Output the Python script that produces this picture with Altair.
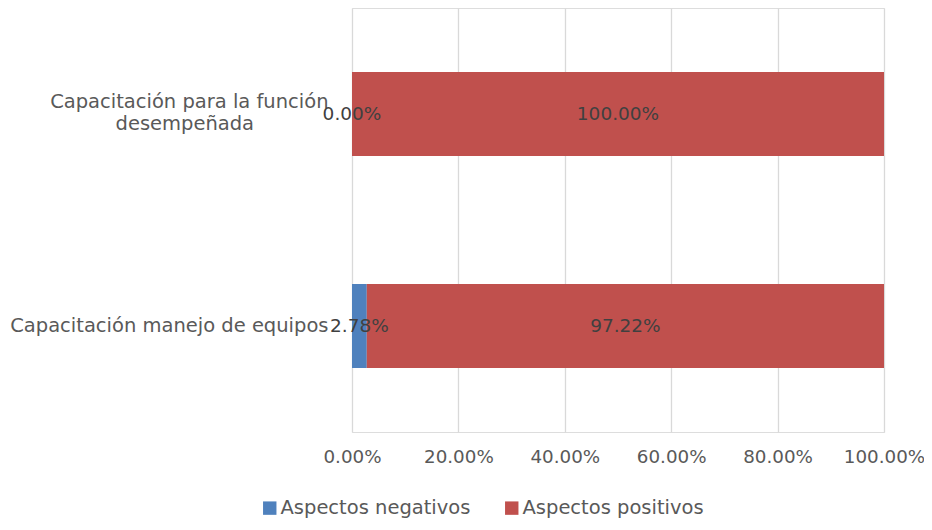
import altair as alt
import pandas as pd

categories = ["Capacitación para la función desempeñada", "Capacitación manejo de equipos"]
series = ["Aspectos negativos", "Aspectos positivos"]
negativos = [0.0, 2.78]
positivos = [100.0, 97.22]
ticks = [0, 20, 40, 60, 80, 100]

rows = []
for c, n, p in zip(categories, negativos, positivos):
    rows.append({"cat": c, "serie": series[0], "val": n, "order": 0})
    rows.append({"cat": c, "serie": series[1], "val": p, "order": 1})
df = pd.DataFrame(rows)

FONT = "DejaVu Sans"
FS = 18.3
FSY = 19.5
PAD = "\u2007" * 6 + "\u2060"

is_top = f"datum.value == '{categories[0]}'"
label_expr = (
    f"{is_top} ? "
    f"['Capacitación para la función', 'desempeñada{PAD}'] : datum.label"
)

y_enc = alt.Y(
    "cat:N",
    sort=categories,
    title=None,
    scale=alt.Scale(paddingInner=0.604, paddingOuter=0.302),
    axis=alt.Axis(
        domain=False, ticks=False, grid=False,
        labelFont=FONT, labelFontSize=FSY, labelColor="#595959",
        labelAlign="right", labelPadding=24, labelLimit=400,
        labelLineHeight=22, labelExpr=label_expr,
        labelOffset={"condition": {"test": is_top, "value": -12}, "value": 0},
    ),
)

base = alt.Chart(df).transform_stack(
    stack="val", groupby=["cat"], as_=["v0", "v1"], sort=[alt.SortField("order")]
).transform_calculate(mid="(datum.v0 + datum.v1) / 2")

bars = base.mark_bar().encode(
    x=alt.X(
        "v0:Q", title=None,
        scale=alt.Scale(domain=[0, 100], nice=False),
        axis=alt.Axis(
            values=ticks, labelExpr="format(datum.value, '.2f') + '%'",
            domain=False, ticks=False, grid=True, gridColor="#D9D9D9", gridWidth=1.3,
            labelFont=FONT, labelFontSize=FS, labelColor="#595959", labelPadding=16,
            labelOverlap=False, labelFlush=False, labelBound=False,
        ),
    ),
    x2="v1:Q",
    y=y_enc,
    color=alt.Color(
        "serie:N",
        scale=alt.Scale(domain=series, range=["#4F81BD", "#C0504D"]),
        legend=alt.Legend(
            title=None, orient="none", direction="horizontal",
            legendX=-92, legendY=490,
            symbolType="square", symbolSize=180, symbolStrokeWidth=0,
            labelFont=FONT, labelFontSize=FSY, labelColor="#595959",
            labelLimit=400, columnPadding=31, labelOffset=1,
        ),
    ),
    order=alt.Order("order:Q"),
)

labels = base.transform_calculate(lbl="format(datum.val, '.2f') + '%'").mark_text(
    font=FONT, fontSize=18.5, color="#404040"
).encode(
    x=alt.X("mid:Q"),
    y=alt.Y("cat:N", sort=categories),
    text="lbl:N",
)

chart = alt.layer(bars, labels).properties(
    width=532, height=424,
    autosize=alt.AutoSizeParams(type="none"),
    padding={"left": 344, "top": 0, "right": 40, "bottom": 90},
).configure_view(stroke=None).configure(background="white")

chart.save("out.html", embed_options={"renderer": "svg", "actions": False})
